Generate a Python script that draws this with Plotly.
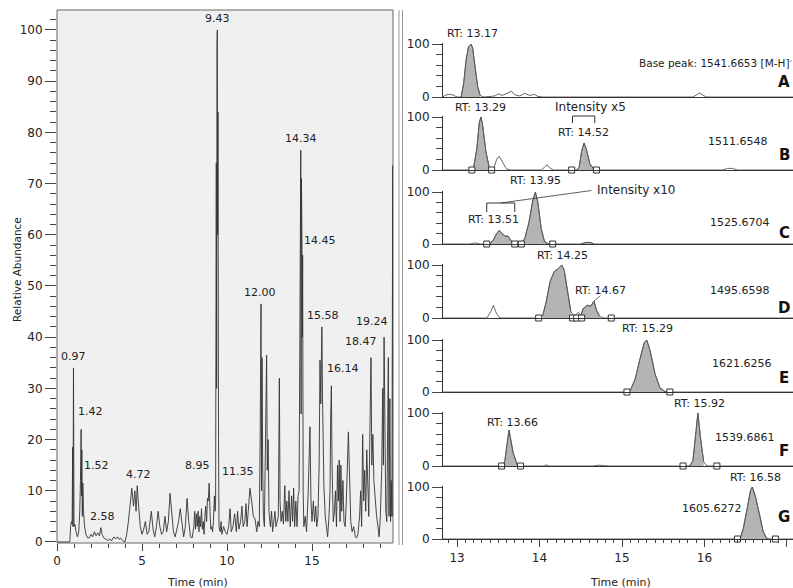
import plotly.graph_objects as go

W, H = 793, 588

# ---------------- DATA ----------------
# Total ion chromatogram (left panel)
tic_time = [0.00, 0.40, 0.75, 0.80, 0.85, 0.89, 0.92, 0.94, 0.97, 1.00, 1.05, 1.12, 1.20, 1.28, 1.34, 1.38,
            1.42, 1.44, 1.46, 1.49, 1.52, 1.56, 1.62, 1.70, 1.80, 1.90, 2.00, 2.10, 2.20, 2.30, 2.40, 2.50,
            2.58, 2.65, 2.75, 2.90, 3.00, 3.10, 3.20, 3.35, 3.45, 3.55, 3.65, 3.75, 3.85, 4.00, 4.10, 4.20,
            4.30, 4.40, 4.50, 4.58, 4.65, 4.72, 4.80, 4.90, 5.00, 5.10, 5.20, 5.30, 5.40, 5.55, 5.65, 5.75,
            5.85, 5.95, 6.05, 6.15, 6.25, 6.35, 6.45, 6.55, 6.65, 6.75, 6.85, 6.95, 7.05, 7.15, 7.25, 7.35,
            7.45, 7.55, 7.65, 7.75, 7.85, 7.95, 8.05, 8.10, 8.15, 8.20, 8.25, 8.30, 8.35, 8.40, 8.45, 8.50,
            8.55, 8.60, 8.65, 8.70, 8.75, 8.80, 8.85, 8.90, 8.95, 9.00, 9.05, 9.10, 9.15, 9.20, 9.26, 9.30,
            9.33, 9.37, 9.39, 9.41, 9.43, 9.45, 9.47, 9.50, 9.53, 9.60, 9.65, 9.70, 9.80, 9.90, 10.00, 10.10,
            10.18, 10.25, 10.35, 10.45, 10.55, 10.62, 10.70, 10.80, 10.88, 10.95, 11.05, 11.12, 11.18, 11.25,
            11.35, 11.45, 11.55, 11.65, 11.75, 11.82, 11.90, 11.95, 12.00, 12.03, 12.06, 12.10, 12.14, 12.20,
            12.28, 12.33, 12.37, 12.42, 12.47, 12.55, 12.62, 12.68, 12.75, 12.82, 12.88, 12.95, 13.02, 13.08,
            13.12, 13.18, 13.25, 13.32, 13.40, 13.46, 13.52, 13.58, 13.65, 13.72, 13.80, 13.86, 13.92, 13.98,
            14.05, 14.12, 14.18, 14.24, 14.28, 14.30, 14.34, 14.36, 14.38, 14.41, 14.43, 14.45, 14.48, 14.52,
            14.60, 14.68, 14.78, 14.88, 14.94, 15.00, 15.08, 15.15, 15.22, 15.28, 15.35, 15.42, 15.47, 15.52,
            15.55, 15.58, 15.62, 15.66, 15.70, 15.78, 15.85, 15.92, 16.00, 16.06, 16.10, 16.14, 16.18, 16.25,
            16.32, 16.38, 16.44, 16.50, 16.55, 16.60, 16.65, 16.70, 16.75, 16.82, 16.88, 16.95, 17.02, 17.08,
            17.14, 17.20, 17.28, 17.36, 17.45, 17.55, 17.62, 17.70, 17.80, 17.86, 17.92, 17.98, 18.04, 18.10,
            18.16, 18.22, 18.28, 18.34, 18.40, 18.44, 18.47, 18.52, 18.58, 18.64, 18.72, 18.80, 18.88, 18.95,
            19.02, 19.10, 19.16, 19.20, 19.24, 19.28, 19.34, 19.40, 19.45, 19.49, 19.53, 19.58, 19.62, 19.66,
            19.70, 19.75, 19.77]
tic_abund = [0, 0, 0, 3, 4, 3.5, 18.5, 3, 34, 3, 3.5, 2, 1, 2, 6, 12,
             22, 9, 18, 5, 11.5, 6, 3, 1.5, 0.8, 0.8, 1.5, 1, 2, 1.2, 1.8, 1.2,
             2.8, 1.5, 0.8, 0.5, 0.3, 0.6, 0.2, 1, 0.6, 1, 0.5, 0.8, 0.3, 0, 1.5, 4,
             8, 10.5, 7, 10, 6, 11, 7, 3, 1.5, 2.5, 4, 1.5, 2, 6, 2.5, 1,
             3, 6, 3, 1.5, 2, 5, 2, 4, 9.5, 5, 2, 1, 2.5, 4, 6.5, 3,
             1, 3, 8.5, 4, 1, 0.8, 3, 6, 2.5, 5.5, 3, 6, 2, 5, 3, 6.5,
             2.5, 4, 1.5, 5, 7, 4, 8.5, 8, 11.5, 6, 2.5, 3, 2, 4, 9, 6,
             8, 74, 30, 97, 100, 60, 84, 20, 3, 2, 4, 1.5, 3, 2, 1.5, 3,
             6.5, 2, 3, 5.5, 2, 6, 2.5, 4, 7, 3, 4, 7.5, 3, 6,
             10.5, 8, 5, 4.5, 2, 4, 3, 20, 46.5, 10, 36, 15, 5, 3,
             25, 36.5, 14, 20, 6, 3, 6, 2, 4, 6, 3, 4, 5, 32,
             8, 4, 6, 3.5, 11, 4, 8, 4, 10, 3, 9, 4, 10.5, 3,
             8, 3, 9, 10, 30, 58, 76.5, 25, 71, 58, 40, 56, 10, 3,
             5, 2, 10, 22.5, 8, 4, 8, 4, 7, 3, 5, 15, 35.5, 27,
             35, 42, 28, 14.5, 11, 5, 3, 1, 5, 10, 25, 30.5, 15, 4,
             6, 10, 3, 15, 8, 16, 4, 15, 6, 12, 4, 3, 8, 18,
             21.5, 14, 4, 2, 3, 1, 0.8, 1.5, 5, 10, 3, 21, 8, 14,
             6, 18, 10, 5, 20, 30, 36, 15, 21, 12, 8, 5, 3, 1,
             5, 14, 30, 15, 40, 20, 6, 4, 20, 36, 5, 28, 4, 12,
             5, 73.5, 5]

# labelled peaks of the chromatogram
tic_label_time = [0.97, 1.42, 1.52, 2.58, 4.72, 8.95, 9.43, 11.35, 12.00, 14.34, 14.45, 15.58, 16.14, 18.47, 19.24]
tic_label_abund = [34, 22, 11.5, 2.8, 11, 11.5, 100, 10.5, 46.5, 76.5, 56, 42, 30.5, 36, 40]

# Extracted ion chromatograms (right panels A-G)
panel_letters = ["A", "B", "C", "D", "E", "F", "G"]
panel_mz = ["Base peak: 1541.6653 [M-H]<sup>-</sup>", "1511.6548", "1525.6704", "1495.6598",
            "1621.6256", "1539.6861", "1605.6272"]

a_time = [12.83, 12.85, 12.90, 12.95, 13.00, 13.05, 13.08, 13.11, 13.14, 13.17, 13.19, 13.22, 13.25, 13.28,
          13.32, 13.40, 13.46, 13.50, 13.55, 13.62, 13.66, 13.70, 13.76, 13.82, 13.88, 13.94, 13.98, 14.05,
          15.86, 15.94, 16.02, 17.08]
a_int = [0, 3, 5, 4, 0, 0, 25, 70, 95, 100, 92, 55, 20, 3,
         0, 1, 2, 6, 3, 8, 11, 4, 2, 7, 3, 5, 1, 0,
         0, 7.5, 0, 0]

b_time = [12.83, 13.15, 13.20, 13.24, 13.27, 13.29, 13.31, 13.35, 13.39, 13.42, 13.45, 13.48, 13.51, 13.55,
          13.60, 13.65, 14.02, 14.06, 14.09, 14.13, 14.17, 14.45, 14.48, 14.51, 14.54, 14.57, 14.61, 14.65,
          14.70, 16.22, 16.28, 16.34, 16.40, 17.08]
b_int = [0, 0, 3, 40, 90, 100, 85, 35, 5, 2, 5, 20, 26, 15,
         2, 0, 0, 5, 10, 3, 0, 0, 5, 35, 51, 38, 12, 3,
         0, 0, 3, 3, 0, 0]

c_time = [12.83, 13.15, 13.22, 13.28, 13.40, 13.44, 13.48, 13.51, 13.55, 13.58, 13.62, 13.66, 13.70, 13.78,
          13.82, 13.87, 13.92, 13.95, 13.98, 14.02, 14.06, 14.10, 14.15, 14.50, 14.56, 14.62, 14.66, 17.08]
c_int = [0, 0, 2, 0, 0, 8, 20, 26, 20, 15, 15, 5, 1, 2,
         10, 40, 85, 100, 80, 30, 5, 1, 0, 0, 3, 3, 0, 0]

d_time = [12.83, 13.36, 13.41, 13.44, 13.48, 13.52, 14.00, 14.04, 14.08, 14.13, 14.18, 14.22, 14.27, 14.30,
          14.34, 14.38, 14.42, 14.45, 14.47, 14.50, 14.53, 14.58, 14.62, 14.66, 14.69, 14.73, 14.78, 17.08]
d_int = [0, 0, 12, 24, 8, 0, 0, 5, 30, 70, 88, 92, 100, 90,
         50, 12, 3, 8, 11, 5, 18, 24, 22, 32, 15, 3, 0, 0]

e_time = [12.83, 15.05, 15.10, 15.16, 15.22, 15.27, 15.30, 15.34, 15.40, 15.46, 15.52, 15.56, 17.08]
e_int = [0, 0, 3, 25, 65, 95, 100, 80, 35, 8, 1, 0, 0]

f_time = [12.83, 13.10, 13.20, 13.55, 13.58, 13.63, 13.68, 13.73, 13.78, 14.05, 14.08, 14.12, 14.65, 14.72,
          14.80, 14.85, 15.82, 15.86, 15.90, 15.92, 15.95, 15.99, 16.03, 17.08]
f_int = [0, 1, 0, 0, 10, 68, 25, 2, 0, 0, 2, 0, 0, 1.5,
         1, 0, 0, 10, 70, 100, 55, 8, 0, 0]

g_time = [12.83, 16.43, 16.47, 16.52, 16.56, 16.58, 16.62, 16.67, 16.71, 16.75, 16.78, 17.08]
g_int = [0, 0, 20, 60, 95, 100, 80, 45, 15, 2, 0, 0]

panel_time = [a_time, b_time, c_time, d_time, e_time, f_time, g_time]
panel_int = [a_int, b_int, c_int, d_int, e_int, f_int, g_int]

# integrated (shaded) windows, peak boundary marks, retention-time labels
panel_fill = [[(13.05, 13.30)],
              [(13.18, 13.42), (14.44, 14.68)],
              [(13.38, 13.70), (13.76, 14.12), (14.50, 14.66)],
              [(14.02, 14.40), (14.50, 14.76)],
              [(15.06, 15.56)],
              [(13.55, 13.75), (15.82, 16.02)],
              [(16.42, 16.78)]]
panel_bounds = [[],
                [13.18, 13.42, 14.39, 14.69],
                [13.36, 13.70, 13.78, 14.16],
                [13.99, 14.40, 14.45, 14.51, 14.87],
                [15.06, 15.58],
                [13.54, 13.77, 15.74, 16.15],
                [16.40, 16.86]]
panel_rt = [["13.17"], ["13.29", "14.52"], ["13.95", "13.51"], ["14.25", "14.67"], ["15.29"],
            ["13.66", "15.92"], ["16.58"]]
# scaled regions: (panel index, start, end, label)
scaled_regions = [(1, 14.40, 14.67, "Intensity x5"), (2, 13.36, 13.70, "Intensity x10")]

# ---------------- STYLE / LAYOUT ----------------
FONT = "DejaVu Sans"
TXT = "#222222"
LINE = "#444444"


def fx(px):
    return px / W


def fy(py):
    return 1 - py / H


def note(px, py, text, size=11, color=TXT, **kw):
    d = dict(x=fx(px), y=fy(py), xref="paper", yref="paper", text=text, showarrow=False,
             xanchor="center", yanchor="middle", font=dict(size=size, family=FONT, color=color))
    d.update(kw)
    return d


fig = go.Figure()

# left chromatogram
fig.add_trace(go.Scatter(x=tic_time, y=tic_abund, mode="lines",
                         line=dict(color="#333333", width=0.9), xaxis="x", yaxis="y",
                         hoverinfo="skip", showlegend=False))

layout = dict(
    template="none",
    width=W, height=H, margin=dict(l=0, r=0, t=0, b=0, pad=0), autosize=False,
    paper_bgcolor="white", plot_bgcolor="rgba(0,0,0,0)", showlegend=False,
    font=dict(family=FONT, size=11, color=TXT),
    xaxis=dict(domain=[fx(57), fx(393)], range=[0, 19.765], anchor="y", automargin=False,
               tickvals=[0, 5, 10, 15], ticks="outside", ticklen=7, tickcolor=LINE,
               minor=dict(dtick=1, tick0=0, ticks="outside", ticklen=4, tickcolor=LINE),
               showgrid=False, zeroline=False, showline=False,
               tickfont=dict(size=12, family=FONT, color=TXT)),
    yaxis=dict(domain=[fy(543), fy(10)], range=[-0.2, 103.9], anchor="x", automargin=False,
               dtick=10, tick0=0, ticks="outside", ticklen=11, tickcolor=LINE,
               minor=dict(dtick=2, tick0=0, ticks="outside", ticklen=6, tickcolor=LINE),
               showgrid=False, zeroline=False, showline=False,
               tickfont=dict(size=12, family=FONT, color=TXT)),
)

shapes = [dict(type="rect", xref="x domain", yref="y domain", x0=0, x1=1, y0=0, y1=1,
               fillcolor="#f0f0f0", line=dict(color="#666666", width=1), layer="below"),
          dict(type="line", xref="paper", yref="paper", x0=fx(399), x1=fx(399), y0=fy(10), y1=fy(545),
               line=dict(color="#999999", width=1)),
          dict(type="line", xref="paper", yref="paper", x0=fx(402.5), x1=fx(402.5), y0=fy(10), y1=fy(545),
               line=dict(color="#999999", width=1))]

annotations = []

# chromatogram peak labels: (xshift, yshift) per label
lab_shift = {"0.97": (0, 3), "1.42": (9, 9), "1.52": (14, 9), "2.58": (2, 3), "4.72": (1, 3),
             "8.95": (-12, 9), "9.43": (0, 3), "11.35": (-12, 8), "12.00": (-1, 3), "14.34": (0, 3),
             "14.45": (17, 6), "15.58": (1, 3), "16.14": (12, 9), "18.47": (-10, 8), "19.24": (-12, 7)}
for t, a in zip(tic_label_time, tic_label_abund):
    s = "%.2f" % t
    dx, dy = lab_shift[s]
    annotations.append(dict(x=t, y=a, xref="x", yref="y", text=s, showarrow=False,
                            xshift=dx, yshift=dy, xanchor="center", yanchor="bottom",
                            font=dict(size=11, family=FONT, color=TXT)))

annotations.append(note(197, 582, "Time (min)"))
annotations.append(note(620, 582, "Time (min)"))
annotations.append(note(17, 270, "Relative Abundance", size=10.5, textangle=-90))

# right panels geometry (pixel rows of 100 and 0)
rows = [(44, 97), (117, 170), (192, 244), (265, 318), (340, 392), (413, 466), (487, 539)]
# annotation pixel positions
rt_pos = [[(472, 33)], [(480, 107), (583, 132)], [(535, 180), (493, 220)], [(562, 255), (600, 290)],
          [(647, 328)], [(512, 422), (699, 403)], [(755, 477)]]
mz_pos = [(715, 62), (738, 142), (740, 223), (740, 290), (742, 363), (745, 437), (712, 508)]
let_pos = [(784, 82), (784, 155), (784, 233), (784, 308), (784, 378), (784, 451), (784, 517)]
scale_txt_pos = {1: (590, 107), 2: (636, 190)}
bracket_px = {1: (116, 123), 2: (203, 212)}

for i in range(7):
    n = i + 2
    xa, ya = "x%d" % n, "y%d" % n
    y100, y0 = rows[i]
    s = (y0 - y100) / 100.0
    top = y100 - 2 * s
    last = (i == 6)
    layout["xaxis%d" % n] = dict(
        domain=[fx(443), 1], range=[12.83, 17.073], anchor=ya, automargin=False,
        showline=True, linecolor="#333333", linewidth=1.2, showgrid=False, zeroline=False,
        ticks="outside" if last else "", showticklabels=last,
        tickvals=[13, 14, 15, 16, 17], ticklen=7, tickcolor=LINE,
        minor=dict(dtick=0.1, tick0=13, ticks="outside" if last else "", ticklen=3, tickcolor=LINE),
        tickfont=dict(size=12, family=FONT, color=TXT))
    layout["yaxis%d" % n] = dict(
        domain=[fy(y0), fy(top)], range=[0, 102], anchor=xa, automargin=False,
        showline=True, linecolor="#333333", linewidth=1, showgrid=False, zeroline=False,
        tickvals=[0, 100], ticks="outside", ticklen=10, tickcolor=LINE,
        minor=dict(tickvals=[20, 40, 60, 80], ticks="outside", ticklen=6, tickcolor=LINE),
        tickfont=dict(size=12, family=FONT, color=TXT))

    tt, ii = panel_time[i], panel_int[i]
    # shaded integrated peaks
    for (w0, w1) in panel_fill[i]:
        ft = [t for t in tt if w0 <= t <= w1]
        fi = [v for t, v in zip(tt, ii) if w0 <= t <= w1]
        fig.add_trace(go.Scatter(x=ft, y=fi, mode="lines", fill="tozeroy", fillcolor="#b4b4b4",
                                 line=dict(color="#555555", width=0.8), xaxis=xa, yaxis=ya,
                                 hoverinfo="skip"))
    # full trace outline
    fig.add_trace(go.Scatter(x=tt, y=ii, mode="lines", line=dict(color="#555555", width=0.9),
                             xaxis=xa, yaxis=ya, hoverinfo="skip"))
    # peak boundary marks
    if panel_bounds[i]:
        fig.add_trace(go.Scatter(x=panel_bounds[i], y=[0] * len(panel_bounds[i]), mode="markers",
                                 marker=dict(symbol="square", size=6, color="white",
                                             line=dict(color="#333333", width=1)),
                                 cliponaxis=False, xaxis=xa, yaxis=ya, hoverinfo="skip"))
    # labels
    for lab, (px, py) in zip(panel_rt[i], rt_pos[i]):
        annotations.append(note(px, py, "RT: " + lab))
    mx, my = mz_pos[i]
    annotations.append(note(mx, my, panel_mz[i], size=10.5 if i == 0 else 11))
    lx, ly = let_pos[i]
    annotations.append(note(lx, ly, "<b>%s</b>" % panel_letters[i], size=15, color="#111111"))

# scaled-intensity brackets
for (pi, t0, t1, lab) in scaled_regions:
    n = pi + 2
    btop, bbot = bracket_px[pi]
    for seg in [(t0, btop, t1, btop), (t0, btop, t0, bbot), (t1, btop, t1, bbot)]:
        shapes.append(dict(type="line", xref="x%d" % n, yref="paper", x0=seg[0], x1=seg[2],
                           y0=fy(seg[1]), y1=fy(seg[3]), line=dict(color="#333333", width=1)))
    tx, ty = scale_txt_pos[pi]
    annotations.append(note(tx, ty, lab, size=12))
    if pi == 2:
        shapes.append(dict(type="line", xref="x%d" % n, yref="paper", x0=(t0 + t1) / 2, x1=14.63,
                           y0=fy(btop), y1=fy(190.5), line=dict(color="#333333", width=0.8)))

# RT 14.67 leader (panel D)
shapes.append(dict(type="line", xref="x5", yref="y5", x0=14.66, y0=32, x1=14.74, y1=42,
                   line=dict(color="#555555", width=0.8)))

layout["shapes"] = shapes
layout["annotations"] = annotations
fig.update_layout(**layout)
fig.write_html("out.html", config={"displayModeBar": False, "staticPlot": True},
               post_script="document.body.style.margin='0px';")
